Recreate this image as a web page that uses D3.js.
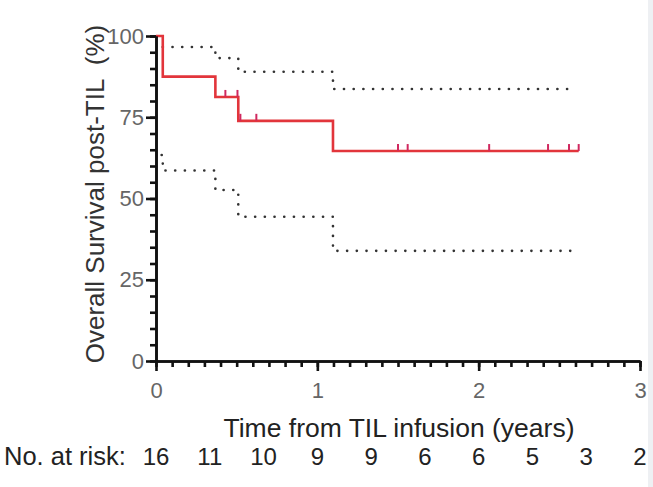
<!DOCTYPE html>
<html>
<head>
<meta charset="utf-8">
<script src="https://cdn.jsdelivr.net/npm/d3@7"></script>
<style>
  body { margin: 0; background: #fff; }
  text { font-family: "Liberation Sans", Arial, sans-serif; }
</style>
</head>
<body>
<div id="chart"></div>
<script>
// KM estimate: [time, survival %] at each step
var kmSteps = [[0, 100], [0.042, 87.5], [0.368, 81.25], [0.51, 73.9], [1.097, 64.6]];
var kmEnd = 2.62;
var censorTimes = [0.43, 0.505, 0.523, 0.622, 1.50, 1.56, 2.065, 2.43, 2.56, 2.62];

// 95% CI bands (dotted)
var upperSteps = [[0.042, 96.6], [0.368, 93.2], [0.51, 89.0], [1.097, 83.7]];
var lowerSteps = [[0.035, 63.4], [0.042, 58.6], [0.368, 52.6], [0.51, 44.4], [1.097, 33.9]];
var ciEnd = 2.57;

// number at risk, every 1/3 year
var riskTimes = [0, 1/3, 2/3, 1, 4/3, 5/3, 2, 7/3, 8/3, 3];
var riskCounts = [16, 11, 10, 9, 9, 6, 6, 5, 3, 2];

var yTicks = [0, 25, 50, 75, 100];
var xTicks = [0, 1, 2, 3];

var width = 653, height = 487;

var svg = d3.select("#chart").append("svg")
    .attr("width", width)
    .attr("height", height);

var x = d3.scaleLinear().domain([0, 3]).range([156, 640]);
var y = d3.scaleLinear().domain([0, 100]).range([361, 36]);

// faint page edge on the right
svg.append("rect")
    .attr("x", 648).attr("y", 0)
    .attr("width", 5).attr("height", height)
    .attr("fill", "#eef0f3");

function stepLine(steps, end) {
  var pts = steps.slice();
  pts.push([end, steps[steps.length - 1][1]]);
  return d3.line()
      .x(function(d) { return x(d[0]); })
      .y(function(d) { return y(d[1]); })
      .curve(d3.curveStepAfter)(pts);
}

function kmAt(t) {
  var v = kmSteps[0][1];
  kmSteps.forEach(function(s) { if (s[0] <= t) v = s[1]; });
  return v;
}

// dotted CI lines
[upperSteps, lowerSteps].forEach(function(s) {
  svg.append("path")
      .attr("d", stepLine(s, ciEnd))
      .attr("fill", "none")
      .attr("stroke", "#333")
      .attr("stroke-width", 2.6)
      .attr("stroke-linecap", "round")
      .attr("stroke-dasharray", "0.1 9.6");
});

// KM line
svg.append("path")
    .attr("d", stepLine(kmSteps, kmEnd))
    .attr("fill", "none")
    .attr("stroke", "#e2353b")
    .attr("stroke-width", 2.6);

// censor marks
svg.selectAll(".censor")
    .data(censorTimes)
  .enter().append("line")
    .attr("class", "censor")
    .attr("x1", function(d) { return x(d); })
    .attr("x2", function(d) { return x(d); })
    .attr("y1", function(d) { return y(kmAt(d)); })
    .attr("y2", function(d) { return y(kmAt(d)) - 7; })
    .attr("stroke", "#d0285f")
    .attr("stroke-width", 2);

// y axis: minor ticks then major with labels
svg.append("g")
    .attr("transform", "translate(" + x(0) + ",0)")
    .call(d3.axisLeft(y).tickValues(d3.range(0, 101, 5)).tickSize(6).tickSizeOuter(0).tickFormat(""))
    .call(function(g) { g.selectAll("line, path").attr("stroke", "#111").attr("stroke-width", 2.6); });

svg.append("g")
    .attr("transform", "translate(" + x(0) + ",0)")
    .call(d3.axisLeft(y).tickValues(yTicks).tickSize(10).tickSizeOuter(0).tickPadding(2))
    .call(function(g) {
      g.selectAll("line, path").attr("stroke", "#111").attr("stroke-width", 2.6);
      g.selectAll("text")
          .attr("fill", "#666")
          .style("font-size", "22px")
          .style("font-family", "'Liberation Sans', Arial, sans-serif");
    });

// x axis
svg.append("g")
    .attr("transform", "translate(0," + y(0) + ")")
    .call(d3.axisBottom(x).tickValues(d3.range(0, 31).map(function(i) { return i / 10; })).tickSize(6).tickSizeOuter(0).tickFormat(""))
    .call(function(g) { g.selectAll("line, path").attr("stroke", "#111").attr("stroke-width", 2.6); });

svg.append("g")
    .attr("transform", "translate(0," + y(0) + ")")
    .call(d3.axisBottom(x).tickValues(xTicks).tickSize(10).tickSizeOuter(0).tickPadding(11).tickFormat(d3.format("d")))
    .call(function(g) {
      g.selectAll("line, path").attr("stroke", "#111").attr("stroke-width", 2.6);
      g.selectAll("text")
          .attr("fill", "#666")
          .style("font-size", "22px")
          .style("font-family", "'Liberation Sans', Arial, sans-serif");
    });

// axis titles
svg.append("text")
    .attr("transform", "translate(104,194) rotate(-90)")
    .attr("text-anchor", "middle")
    .attr("fill", "#333")
    .style("font-size", "26px")
    .style("white-space", "pre")
    .text("Overall Survival post-TIL  (%)");

svg.append("text")
    .attr("x", 399)
    .attr("y", 437)
    .attr("text-anchor", "middle")
    .attr("fill", "#222")
    .style("font-size", "26.5px")
    .text("Time from TIL infusion (years)");

// number at risk row
svg.append("text")
    .attr("x", 4)
    .attr("y", 465)
    .attr("fill", "#222")
    .style("font-size", "25.5px")
    .style("white-space", "pre")
    .text("No. at risk:");

svg.selectAll(".risk")
    .data(riskCounts)
  .enter().append("text")
    .attr("class", "risk")
    .attr("x", function(d, i) { return x(riskTimes[i]); })
    .attr("y", 465)
    .attr("text-anchor", "middle")
    .attr("fill", "#222")
    .style("font-size", "24px")
    .text(function(d) { return d; });
</script>
</body>
</html>
